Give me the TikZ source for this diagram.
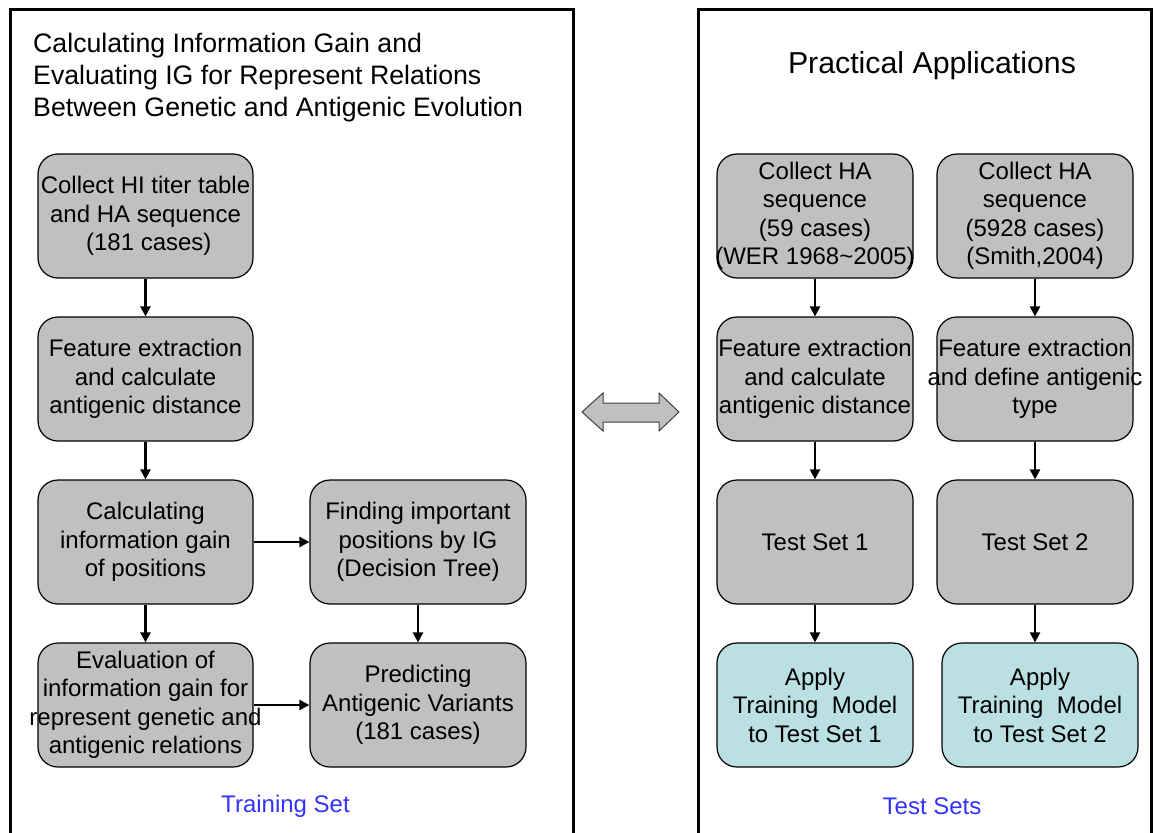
\documentclass[tikz,border=0pt]{standalone}
\usepackage{fontspec}
\setmainfont{Liberation Sans}
\usetikzlibrary{arrows.meta}
\definecolor{boxgray}{RGB}{192,192,192}
\definecolor{boxcyan}{RGB}{187,224,227}
\definecolor{labelblue}{RGB}{51,51,255}
\definecolor{arrowedge}{RGB}{64,64,64}
\tikzset{
  gbox/.style={draw=black, fill=boxgray, line width=1.2pt, rounded corners=20pt,
    minimum height=124pt, inner sep=0pt},
  cbox/.style={gbox, fill=boxcyan},
  btxt/.style={align=center, inner sep=0pt, font=\fontsize{24}{28.5}\selectfont},
  panel/.style={draw=black, line width=3pt},
  flow/.style={line width=2.3pt, -{Triangle[length=10pt,width=10pt]}},
  caption/.style={text=labelblue, font=\fontsize{24}{28}\selectfont, inner sep=0pt}
}
\begin{document}
\begin{tikzpicture}[x=1pt,y=-1pt]
\useasboundingbox (0,0) rectangle (1155,832);
\clip (0,0) rectangle (1155,832);

% panels
\draw[panel] (10.5,10) rectangle (573.5,860);
\draw[panel] (698.5,10) rectangle (1151.5,860);

% panel headings
\node[anchor=west, align=left, inner sep=0pt, font=\fontsize{26.7}{32}\selectfont] (lhead) at (33,78)
  {Calculating Information Gain and\\Evaluating IG for Represent Relations\\Between Genetic and Antigenic Evolution};
\node[inner sep=0pt, font=\fontsize{30.3}{34}\selectfont] (rhead) at (932,66) {Practical Applications};

% training flow, first column
\node[gbox, minimum width=215pt] (c1) at (145.5,216) {};
\node[gbox, minimum width=215pt] (c2) at (145.5,379) {};
\node[gbox, minimum width=215pt] (c3) at (145.5,542) {};
\node[gbox, minimum width=215pt] (c4) at (145.5,705) {};
\node[btxt] (c1t) at (c1.center) {Collect HI titer table\\and HA sequence\\\ (181 cases)};
\node[btxt] (c2t) at (c2.center) {Feature extraction\\and calculate\\antigenic distance};
\node[btxt] (c3t) at (c3.center) {Calculating\\information gain\\of positions};
\node[btxt] (c4t) at (c4.center) {Evaluation of\\information gain for\\represent genetic and\\antigenic relations};

% training flow, second column
\node[gbox, minimum width=216pt] (d3) at (418,542) {};
\node[gbox, minimum width=216pt] (d4) at (418,705) {};
\node[btxt] (d3t) at (d3.center) {Finding important\\positions by IG\\(Decision Tree)};
\node[btxt] (d4t) at (d4.center) {Predicting\\Antigenic Variants\\(181 cases)};

% test flow, column A
\node[gbox, minimum width=196pt] (a1) at (815,216) {};
\node[gbox, minimum width=196pt] (a2) at (815,379) {};
\node[gbox, minimum width=196pt] (a3) at (815,542) {};
\node[cbox, minimum width=196pt] (a4) at (815,705) {};
\node[btxt] (a1t) at (a1.center) {Collect HA\\sequence\\(59 cases)\\(WER 1968\textasciitilde2005)};
\node[btxt] (a2t) at (a2.center) {Feature extraction\\and calculate\\antigenic distance};
\node[btxt] (a3t) at (a3.center) {Test Set 1};
\node[btxt] (a4t) at (a4.center) {Apply\\Training\ \ Model\\to Test Set 1};

% test flow, column B
\node[gbox, minimum width=196pt] (b1) at (1035,216) {};
\node[gbox, minimum width=196pt] (b2) at (1035,379) {};
\node[gbox, minimum width=196pt] (b3) at (1035,542) {};
\node[cbox, minimum width=196pt] (b4) at (1040,705) {};
\node[btxt] (b1t) at (b1.center) {Collect HA\\sequence\\(5928 cases)\\(Smith,2004)};
\node[btxt] (b2t) at (b2.center) {Feature extraction\\and define antigenic\\type};
\node[btxt] (b3t) at (b3.center) {Test Set 2};
\node[btxt] (b4t) at (b4.center) {Apply\\Training\ \ Model\\to Test Set 2};

% connectors
\draw[flow] (c1.south) -- (c2.north);
\draw[flow] (c2.south) -- (c3.north);
\draw[flow] (c3.south) -- (c4.north);
\draw[flow] (c3.east) -- (d3.west);
\draw[flow] (c4.east) -- (d4.west);
\draw[flow] (d3.south) -- (d4.north);
\draw[flow] (a1.south) -- (a2.north);
\draw[flow] (a2.south) -- (a3.north);
\draw[flow] (a3.south) -- (a4.north);
\draw[flow] (b1.south) -- (b2.north);
\draw[flow] (b2.south) -- (b3.north);
\draw[flow] (b3.south) -- (b3.south |- b4.north);

% link between the two panels
\draw[draw=arrowedge, fill=boxgray, line width=1pt, line join=miter]
  (582,412) -- (603,393) -- (603,403) -- (659,403) -- (659,393) -- (679,412)
  -- (659,431) -- (659,422) -- (603,422) -- (603,431) -- cycle;

% panel captions
\node[caption] (ltrain) at (285.5,806) {Training Set};
\node[caption] (rtest) at (932,806) {Test Sets};
\end{tikzpicture}
\end{document}
